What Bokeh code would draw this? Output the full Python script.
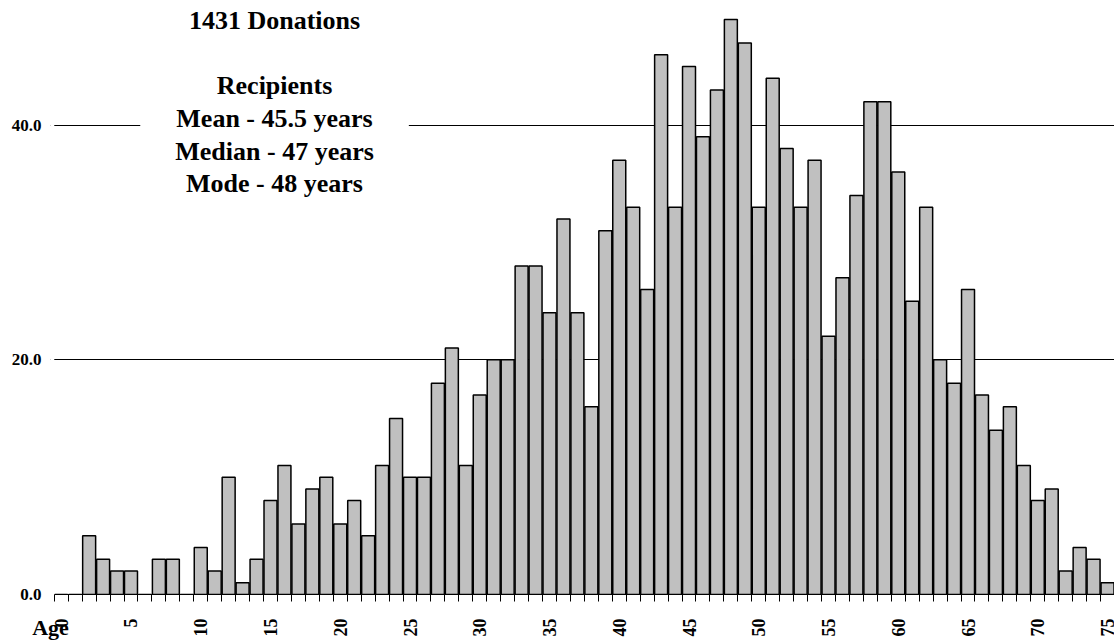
from bokeh.plotting import figure
from bokeh.models import Range1d, FixedTicker, NumeralTickFormatter, Label, BoxAnnotation
from bokeh.embed import file_html
from bokeh.resources import INLINE
import math

ages = list(range(0, 76))
donations = [0, 0, 5, 3, 2, 2, 0, 3, 3, 0,
             4, 2, 10, 1, 3, 8, 11, 6, 9, 10,
             6, 8, 5, 11, 15, 10, 10, 18, 21, 11,
             17, 20, 20, 28, 28, 24, 32, 24, 16, 31,
             37, 33, 26, 46, 33, 45, 39, 43, 49, 47,
             33, 44, 38, 33, 37, 22, 27, 34, 42, 42,
             36, 25, 33, 20, 18, 26, 17, 14, 16, 11,
             8, 9, 2, 4, 3, 1]
x_label_ticks = [0, 5, 10, 15, 20, 25, 30, 35, 40, 45, 50, 55, 60, 65, 70, 75]
y_ticks = [0, 20, 40]
annotation_lines = ["1431 Donations", "", "Recipients", "Mean - 45.5 years",
                    "Median - 47 years", "Mode - 48 years"]
x_title = "Age"

FONT = "Liberation Serif"
first_edge = ages[0] - 0.5
last_edge = ages[-1] + 0.5

p = figure(width=1114, height=642, output_backend="svg", toolbar_location=None,
           x_range=Range1d(-0.77, last_edge), y_range=Range1d(0, 50.62),
           min_border_left=50, min_border_right=0, min_border_top=0,
           min_border_bottom=48)
p.outline_line_color = None
p.background_fill_color = "white"
p.border_fill_color = "white"

p.vbar(x=ages, top=donations, width=0.93, bottom=0,
       fill_color="#c0c0c0", line_color="black", line_width=1.5)

# x axis
xa = p.xaxis[0]
xa.bounds = (first_edge, last_edge)
xa.ticker = FixedTicker(ticks=x_label_ticks,
                        minor_ticks=[a - 0.5 for a in ages] + [last_edge])
xa.major_tick_line_color = None
xa.major_tick_out = 0
xa.major_tick_in = 0
xa.minor_tick_out = 7
xa.minor_tick_in = 0
xa.minor_tick_line_color = "black"
xa.axis_line_color = "black"
xa.axis_line_width = 1
xa.major_label_orientation = math.pi / 2
xa.major_label_standoff = 17
xa.major_label_text_font = FONT
xa.major_label_text_font_style = "bold"
xa.major_label_text_font_size = "18px"
xa.major_label_text_color = "black"
xa.axis_label = x_title
xa.axis_label_align = "start"
xa.axis_label_standoff = -25
xa.axis_label_text_font = FONT
xa.axis_label_text_font_style = "bold"
xa.axis_label_text_font_size = "22px"
xa.axis_label_text_color = "black"

# y axis
ya = p.yaxis[0]
ya.ticker = FixedTicker(ticks=y_ticks)
ya.formatter = NumeralTickFormatter(format="0.0")
ya.axis_line_color = None
ya.major_tick_line_color = None
ya.minor_tick_line_color = None
ya.major_tick_out = 0
ya.major_tick_in = 0
ya.major_label_standoff = 9
ya.major_label_text_font = FONT
ya.major_label_text_font_style = "bold"
ya.major_label_text_font_size = "17px"
ya.major_label_text_color = "black"

p.xgrid.grid_line_color = None
p.ygrid.grid_line_color = "black"
p.ygrid.grid_line_width = 1

# keep grid lines from starting left of the first category
p.add_layout(BoxAnnotation(right=first_edge, fill_color="white", fill_alpha=1,
                           line_alpha=0, level="underlay"))

ann = Label(x=15.29, y=53.17, x_units="data", y_units="data",
            text="\n".join(annotation_lines), text_align="center",
            text_baseline="top", text_font=FONT, text_font_style="bold",
            text_font_size="26px", text_line_height=1.13, text_color="black",
            background_fill_color="white", padding=35)
p.add_layout(ann)

open("out.html", "w").write(file_html(p, INLINE))
